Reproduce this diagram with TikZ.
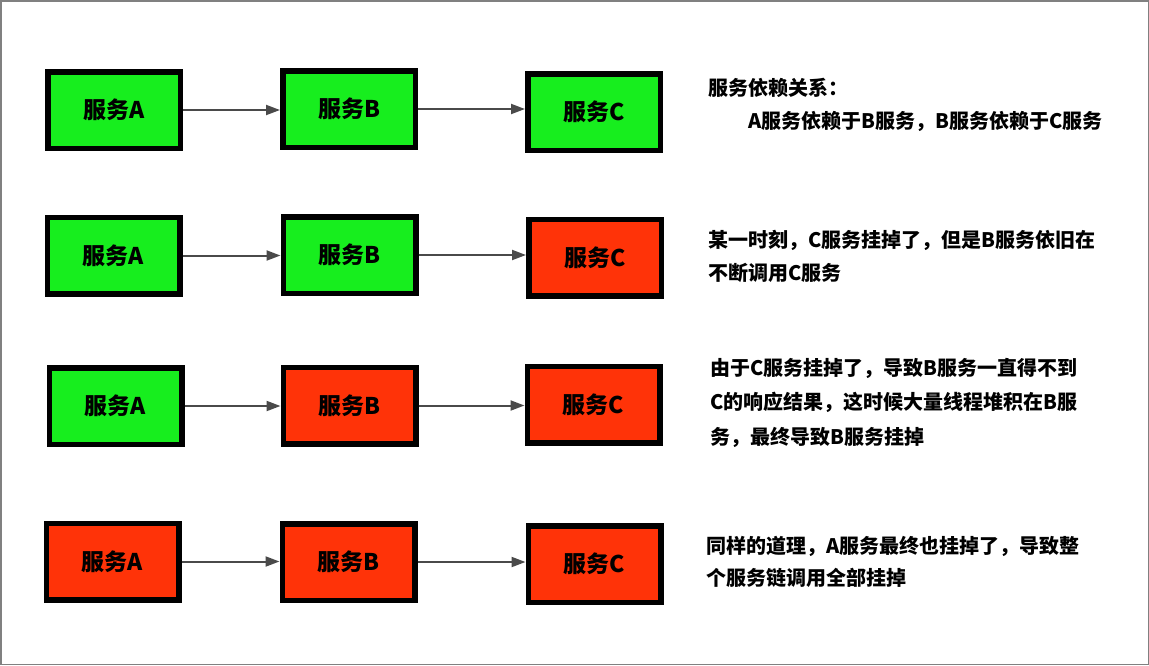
\documentclass[tikz,border=0pt]{standalone}
\usepackage{fontspec}
\newfontfamily\cjk{Noto Sans CJK SC}
\usetikzlibrary{arrows.meta}
\definecolor{okgreen}{HTML}{17EE1E}
\definecolor{downred}{HTML}{FF3308}
\definecolor{linkgray}{HTML}{4A4A4A}
\begin{document}
\begin{tikzpicture}[x=1pt,y=-1pt,
  svc/.style={draw=black,line width=5.5pt,minimum width=132.5pt,minimum height=76.5pt,
    inner sep=0pt,font=\cjk\bfseries\fontsize{23pt}{26pt}\selectfont},
  ok/.style={svc,fill=okgreen},
  down/.style={svc,fill=downred},
  call/.style={linkgray,line width=2pt,-{Triangle[length=14pt,width=10pt]}},
  note/.style={anchor=west,inner sep=0pt,font=\cjk\bfseries\fontsize{20pt}{23pt}\selectfont}]
\useasboundingbox (0,0) rectangle (1149,665);
\draw[gray,line width=1.5pt] (0.75,0.75) rectangle (1148.25,664.25);
% row 1: all services up
\node[ok] (a1) at (114,110) {服务A};
\node[ok] (b1) at (349,109) {服务B};
\node[ok] (c1) at (594,112) {服务C};
\draw[call] (a1.east) -- (a1.east -| b1.west);
\draw[call] (b1.east) -- (b1.east -| c1.west);
\node[note] (t1a) at (708,88) {服务依赖关系：};
\node[note] (t1b) at (748,121) {A服务依赖于B服务，B服务依赖于C服务};
% row 2: C goes down
\node[ok] (a2) at (113.5,255.5) {服务A};
\node[ok] (b2) at (349.5,255) {服务B};
\node[down] (c2) at (595,257.5) {服务C};
\draw[call] (a2.east) -- (a2.east -| b2.west);
\draw[call] (b2.east) -- (b2.east -| c2.west);
\node[note] (t2a) at (708,240) {某一时刻，C服务挂掉了，但是B服务依旧在};
\node[note] (t2b) at (708,273) {不断调用C服务};
% row 3: B goes down
\node[ok] (a3) at (115.5,406) {服务A};
\node[down] (b3) at (349.5,405.5) {服务B};
\node[down] (c3) at (593.5,404.5) {服务C};
\draw[call] (a3.east) -- (a3.east -| b3.west);
\draw[call] (b3.east) -- (b3.east -| c3.west);
\node[note] (t3a) at (710,368) {由于C服务挂掉了，导致B服务一直得不到};
\node[note] (t3b) at (710,402) {C的响应结果，这时候大量线程堆积在B服};
\node[note] (t3c) at (710,437) {务，最终导致B服务挂掉};
% row 4: whole chain down
\node[down] (a4) at (112.5,561.5) {服务A};
\node[down] (b4) at (348.5,562) {服务B};
\node[down] (c4) at (594.5,564) {服务C};
\draw[call] (a4.east) -- (a4.east -| b4.west);
\draw[call] (b4.east) -- (b4.east -| c4.west);
\node[note] (t4a) at (706,546) {同样的道理，A服务最终也挂掉了，导致整};
\node[note] (t4b) at (706,578) {个服务链调用全部挂掉};
\end{tikzpicture}
\end{document}
